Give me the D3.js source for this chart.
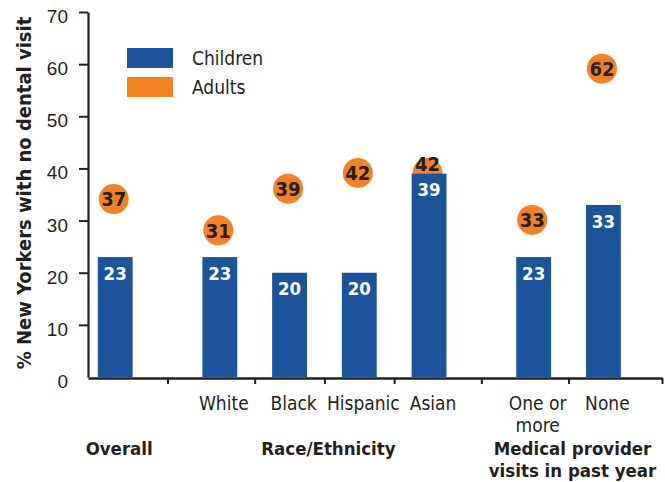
<!DOCTYPE html>
<html><head><meta charset="utf-8">
<script src="https://cdn.jsdelivr.net/npm/d3@7/dist/d3.min.js"></script>
<style>
html,body{margin:0;padding:0;background:#fff;}
svg{display:block;font-family:"DejaVu Sans Condensed","Liberation Sans Narrow","Open Sans",sans-serif;}
</style></head>
<body><svg id="chart" width="665" height="482"></svg>
<script>
// ---- data ----
const categories = ["Overall","White","Black","Hispanic","Asian","One or more","None"];
const categoryLabels = [[], ["White"], ["Black"], ["Hispanic"], ["Asian"], ["One or","more"], ["None"]];
const groupOf = [0,1,1,1,1,2,2];
const groupLabels = [["Overall"], ["Race/Ethnicity"], ["Medical provider","visits in past year"]];
const children = [23,23,20,20,39,23,33];
const adults = [37,31,39,42,42,33,62];
const yTicks = [0,10,20,30,40,50,60,70];
const seriesNames = ["Children","Adults"];
const yTitle = "% New Yorkers with no dental visit";

// ---- style ----
const BLUE = "#1c549b", ORANGE = "#f58220", INK = "#231f20";
const svg = d3.select("#chart");

// slot positions: half-slot gap between groups
const pos = categories.map((c,i)=> i + 0.5*groupOf[i]);
const x = d3.scaleLinear().domain([-0.39, 7.84]).range([88, 662]);
const y = d3.scaleLinear().domain([0,70]).range([377, 12]);
const barW = x(0.5) - x(0);
const r = 15;

// y axis
const yAxis = d3.axisLeft(y).tickValues(yTicks).tickSize(9).tickSizeOuter(0).tickFormat(d3.format("d"));
const gy = svg.append("g").attr("transform","translate(88,0)").call(yAxis);
gy.select(".domain").attr("stroke",INK).attr("stroke-width",2.2);
gy.selectAll(".tick line").attr("stroke",INK).attr("stroke-width",2).attr("display",d=>d===0?"none":null);
gy.selectAll(".tick text").attr("x",-20).attr("dy","0.55em").attr("fill",INK)
  .style("font-size","19px").style("font-family",null);

// x axis with ticks between categories
const mids = [];
for (let i=1;i<pos.length;i++) mids.push((pos[i-1]+pos[i])/2);
mids.push(x.domain()[1]);
const xAxis = d3.axisBottom(x).tickValues(mids).tickSize(6).tickSizeOuter(0).tickFormat("");
const gx = svg.append("g").attr("transform","translate(0,378)").call(xAxis);
gx.select(".domain").attr("stroke",INK).attr("stroke-width",2.6);
gx.selectAll(".tick line").attr("stroke",INK).attr("stroke-width",2);

// adult circles (behind bars)
const ad = svg.append("g");
ad.selectAll("circle").data(adults).join("circle")
  .attr("cx",(d,i)=>x(pos[i])-1.5).attr("cy",d=>y(d)+r).attr("r",r).attr("fill",ORANGE);

// children bars
svg.append("g").selectAll("rect").data(children).join("rect")
  .attr("x",(d,i)=>x(pos[i])-barW/2).attr("width",barW)
  .attr("y",d=>y(d)).attr("height",d=>y(0)-y(d)).attr("fill",BLUE);

// bar labels
svg.append("g").selectAll("text").data(children).join("text")
  .attr("x",(d,i)=>x(pos[i])).attr("y",d=>y(d)+16).attr("dy","0.36em")
  .attr("text-anchor","middle").attr("fill","#fff")
  .style("font-size","18.5px").style("font-weight","bold").text(d=>d);

// adult labels (on top); where a bar would cover the circle, lift label
svg.append("g").selectAll("text").data(adults).join("text")
  .attr("x",(d,i)=>x(pos[i])-1.5)
  .attr("y",(d,i)=> (y(d)+r > y(children[i]) - r) && adults[i]-children[i] < 6 ? y(d)+r-9 : y(d)+r)
  .attr("dy","0.36em").attr("text-anchor","middle").attr("fill",INK)
  .style("font-size","20px").style("font-weight","bold").text(d=>d);

// category labels
const cl = svg.append("g").attr("fill",INK).style("font-size","19px");
categoryLabels.forEach((lines,i)=>{
  lines.forEach((t,j)=>{
    cl.append("text").attr("x",x(pos[i])+4).attr("y",410+j*22).attr("text-anchor","middle").text(t);
  });
});

// group labels
const gl = svg.append("g").attr("fill",INK).style("font-size","18.5px").style("font-weight","bold");
groupLabels.forEach((lines,g)=>{
  const ps = pos.filter((p,i)=>groupOf[i]===g);
  const c = (d3.min(ps)+d3.max(ps))/2;
  lines.forEach((t,j)=>{
    gl.append("text").attr("x",x(c)+4).attr("y",455+j*22).attr("text-anchor","middle").text(t);
  });
});

// y title
svg.append("text").attr("transform","translate(31,193) rotate(-90)")
  .attr("text-anchor","middle").attr("fill",INK)
  .style("font-size","20px").style("font-weight","bold").text(yTitle);

// legend
const lg = svg.append("g");
[BLUE,ORANGE].forEach((c,i)=>{
  lg.append("rect").attr("x",127).attr("y",48+i*29).attr("width",46).attr("height",20).attr("fill",c);
  lg.append("text").attr("x",192).attr("y",65+i*29).attr("fill",INK).style("font-size","19px").text(seriesNames[i]);
});
</script></body></html>
